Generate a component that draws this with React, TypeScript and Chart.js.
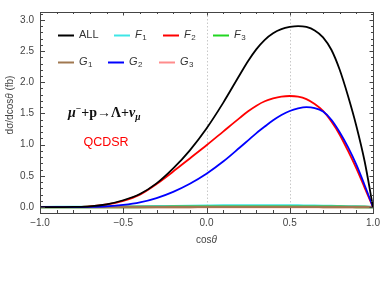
import { useEffect, useRef } from "react";
import { Chart, registerables } from "chart.js";

Chart.register(...registerables);

// ---------- data ----------
const cosTheta = [-1, -0.9, -0.8, -0.7, -0.6, -0.5, -0.4, -0.3, -0.2, -0.1, 0, 0.1, 0.2, 0.25, 0.3, 0.35, 0.4, 0.45, 0.5, 0.55, 0.6, 0.65, 0.7, 0.75, 0.8, 0.85, 0.9, 0.95, 1];
const ALL = [0, 0.001, 0.004, 0.013, 0.045, 0.11, 0.21, 0.38, 0.62, 0.91, 1.26, 1.67, 2.12, 2.34, 2.53, 2.68, 2.785, 2.85, 2.885, 2.9, 2.885, 2.83, 2.72, 2.52, 2.2, 1.78, 1.3, 0.73, 0];
const F1 = [0, 0.001, 0.002, 0.003, 0.005, 0.007, 0.01, 0.013, 0.016, 0.019, 0.022, 0.025, 0.027, 0.028, 0.028, 0.028, 0.028, 0.027, 0.027, 0.026, 0.024, 0.022, 0.02, 0.018, 0.015, 0.012, 0.009, 0.005, 0];
const F2 = [0, 0.001, 0.004, 0.013, 0.042, 0.1, 0.2, 0.37, 0.57, 0.78, 0.99, 1.21, 1.43, 1.535, 1.625, 1.695, 1.74, 1.77, 1.78, 1.77, 1.73, 1.65, 1.54, 1.37, 1.16, 0.9, 0.62, 0.31, 0];
const F3 = [0, 0, 0, 0.001, 0.001, 0.002, 0.003, 0.004, 0.005, 0.006, 0.007, 0.007, 0.008, 0.008, 0.008, 0.008, 0.008, 0.008, 0.008, 0.008, 0.007, 0.007, 0.006, 0.006, 0.005, 0.004, 0.003, 0.002, 0];
const G1 = [0, 0, 0, 0.001, 0.001, 0.002, 0.002, 0.003, 0.003, 0.003, 0.004, 0.004, 0.004, 0.004, 0.004, 0.004, 0.004, 0.004, 0.004, 0.004, 0.004, 0.004, 0.003, 0.003, 0.003, 0.002, 0.002, 0.001, 0];
const G2 = [0, 0, 0.001, 0.004, 0.013, 0.035, 0.075, 0.145, 0.245, 0.375, 0.535, 0.73, 0.955, 1.07, 1.185, 1.29, 1.39, 1.475, 1.54, 1.58, 1.6, 1.585, 1.53, 1.4, 1.2, 0.96, 0.68, 0.35, 0];
const G3 = [0, 0, 0, 0, 0, 0.001, 0.001, 0.001, 0.001, 0.001, 0.001, 0.001, 0.001, 0.001, 0.001, 0.001, 0.001, 0.001, 0.001, 0.001, 0.001, 0.001, 0.001, 0.001, 0.001, 0.001, 0, 0, 0];

const xTicks = [-1, -0.5, 0, 0.5, 1];
const yTicks = [0, 0.5, 1, 1.5, 2, 2.5, 3];
const xGridLines = [0, 0.5];

const seriesNames = ["ALL", "F1", "F2", "F3", "G1", "G2", "G3"];
const seriesValues = [ALL, F1, F2, F3, G1, G2, G3];
const seriesColors = ["#000000", "#3ee6e6", "#ff0000", "#22d622", "#a07850", "#0000ff", "#ff8c8c"];
// drawing order (lower = drawn on top)
const seriesOrder = [1, 6, 3, 5, 4, 2, 7];

const SANS = "'Liberation Sans', Arial, sans-serif";
const SERIF = "'Liberation Serif', 'Times New Roman', serif";
const fmt = (v: number) => v.toFixed(1).replace("-", "\u2212");

const framePlugin = {
  id: "mmaFrame",
  beforeDatasetsDraw(chart: any) {
    const { ctx, chartArea: a, scales } = chart;
    ctx.save();
    ctx.strokeStyle = "#c8c8c8";
    ctx.lineWidth = 1;
    ctx.setLineDash([1.5, 2]);
    for (const g of xGridLines) {
      const x = Math.round(scales.x.getPixelForValue(g)) + 0.5;
      ctx.beginPath();
      ctx.moveTo(x, a.top);
      ctx.lineTo(x, a.bottom);
      ctx.stroke();
    }
    ctx.restore();
  },
  afterDraw(chart: any) {
    const { ctx, chartArea: a, scales } = chart;
    const sx = scales.x, sy = scales.y;
    ctx.save();
    // frame
    ctx.strokeStyle = "#444";
    ctx.lineWidth = 1;
    ctx.strokeRect(a.left + 0.5, a.top + 0.5, a.right - a.left, a.bottom - a.top);
    // x ticks (inward, bottom and top)
    ctx.beginPath();
    for (let i = -10; i <= 10; i++) {
      const v = i / 10;
      const major = i % 5 === 0;
      const x = Math.round(sx.getPixelForValue(v)) + 0.5;
      const lb = major ? 5 : 3;
      const lt = major ? 3.5 : 2;
      ctx.moveTo(x, a.bottom);
      ctx.lineTo(x, a.bottom - lb);
      ctx.moveTo(x, a.top);
      ctx.lineTo(x, a.top + lt);
    }
    // y ticks (inward, left and right)
    for (let i = -1; i <= 31; i++) {
      const v = i / 10;
      const y = Math.round(sy.getPixelForValue(v)) + 0.5;
      if (y < a.top || y > a.bottom) continue;
      const major = i % 5 === 0;
      const l = major ? 5 : 3;
      const r = major ? 3.5 : 2;
      ctx.moveTo(a.left, y);
      ctx.lineTo(a.left + l, y);
      ctx.moveTo(a.right, y);
      ctx.lineTo(a.right - r, y);
    }
    ctx.stroke();

    // legend
    const legend = [
      { i: 0, x: 58, y: 35 },
      { i: 1, x: 114, y: 35 },
      { i: 2, x: 163, y: 35 },
      { i: 3, x: 213, y: 35 },
      { i: 4, x: 58, y: 62 },
      { i: 5, x: 108, y: 62 },
      { i: 6, x: 159, y: 62 },
    ];
    ctx.textBaseline = "middle";
    ctx.textAlign = "left";
    for (const e of legend) {
      ctx.strokeStyle = seriesColors[e.i];
      ctx.lineWidth = 2;
      ctx.beginPath();
      ctx.moveTo(e.x, e.y + 0.5);
      ctx.lineTo(e.x + 16, e.y + 0.5);
      ctx.stroke();
      const name = seriesNames[e.i];
      ctx.fillStyle = "#333";
      let tx = e.x + 21;
      if (name === "ALL") {
        ctx.font = `11px ${SANS}`;
        ctx.fillText(name, tx, e.y);
      } else {
        ctx.font = `italic 11px ${SANS}`;
        ctx.fillText(name[0], tx, e.y);
        tx += ctx.measureText(name[0]).width + 0.5;
        ctx.font = `8px ${SANS}`;
        ctx.fillText(name.slice(1), tx, e.y + 3);
      }
    }

    // reaction text
    const segs: [string, string, number][] = [
      ["\u03bc", `bold italic 14px ${SERIF}`, 0],
      ["\u2212", `bold 9.5px ${SERIF}`, -5],
      ["+p\u2192\u039b+", `bold 14px ${SERIF}`, 0],
      ["\u03bd", `bold italic 14px ${SERIF}`, 0],
      ["\u03bc", `bold italic 9.5px ${SERIF}`, 3],
    ];
    ctx.fillStyle = "#111";
    ctx.textBaseline = "alphabetic";
    let rx = 68;
    const ry = 117;
    for (const [t, f, dy] of segs) {
      ctx.font = f;
      ctx.fillText(t, rx, ry + dy);
      rx += ctx.measureText(t).width;
    }

    // QCDSR
    ctx.fillStyle = "#ff0000";
    ctx.font = `12.5px ${SANS}`;
    ctx.textAlign = "center";
    ctx.textBaseline = "middle";
    ctx.fillText("QCDSR", 106, 143);

    // x title "cosθ"
    ctx.fillStyle = "#444";
    ctx.textAlign = "left";
    ctx.font = `10px ${SANS}`;
    const w1 = ctx.measureText("cos").width;
    ctx.font = `italic 10px ${SANS}`;
    const w2 = ctx.measureText("\u03b8").width;
    const cx = sx.getPixelForValue(0) - (w1 + w2) / 2;
    ctx.font = `10px ${SANS}`;
    ctx.fillText("cos", cx, 240);
    ctx.font = `italic 10px ${SANS}`;
    ctx.fillText("\u03b8", cx + w1, 240);

    // y title "dσ/dcosθ (fb)"
    ctx.translate(10, 105);
    ctx.rotate(-Math.PI / 2);
    const parts: [string, boolean][] = [["d\u03c3/dcos", false], ["\u03b8", true], [" (fb)", false]];
    let tw = 0;
    for (const [t, it] of parts) {
      ctx.font = `${it ? "italic " : ""}10px ${SANS}`;
      tw += ctx.measureText(t).width;
    }
    let px = -tw / 2;
    for (const [t, it] of parts) {
      ctx.font = `${it ? "italic " : ""}10px ${SANS}`;
      ctx.fillText(t, px, 0);
      px += ctx.measureText(t).width;
    }
    ctx.restore();
  },
};

export default function App() {
  const ref = useRef<HTMLCanvasElement | null>(null);
  useEffect(() => {
    if (!ref.current) return;
    const chart = new Chart(ref.current, {
      type: "line",
      data: {
        datasets: seriesNames.map((n, i) => ({
          label: n,
          data: cosTheta.map((x, k) => ({ x, y: seriesValues[i][k] })),
          borderColor: seriesColors[i],
          backgroundColor: seriesColors[i],
          borderWidth: i === 0 || i === 2 || i === 5 ? 1.8 : 2.4,
          pointRadius: 0,
          cubicInterpolationMode: "monotone",
          fill: false,
          order: seriesOrder[i],
        })),
      },
      options: {
        responsive: false,
        animation: false,
        events: [],
        layout: { padding: { left: 0, top: 7, right: 13, bottom: 59 } },
        plugins: { legend: { display: false }, tooltip: { enabled: false }, title: { display: false } },
        scales: {
          x: {
            type: "linear",
            min: -1,
            max: 1,
            grid: { display: false, drawTicks: false },
            border: { display: false },
            afterBuildTicks: (s: any) => { s.ticks = xTicks.map((v) => ({ value: v })); },
            afterFit: (s: any) => { s.height = 20; },
            ticks: {
              autoSkip: false,
              maxRotation: 0,
              padding: 4,
              color: "#444",
              font: { family: SANS, size: 10 },
              callback: (v: any) => fmt(Number(v)),
            },
          },
          y: {
            type: "linear",
            min: -0.094,
            max: 3.125,
            grid: { display: false, drawTicks: false },
            border: { display: false },
            afterBuildTicks: (s: any) => { s.ticks = yTicks.map((v) => ({ value: v })); },
            afterFit: (s: any) => { s.width = 40; },
            ticks: {
              autoSkip: false,
              padding: 6,
              color: "#444",
              font: { family: SANS, size: 10 },
              callback: (v: any) => fmt(Number(v)),
            },
          },
        },
      },
      plugins: [framePlugin],
    } as any);
    return () => chart.destroy();
  }, []);
  return (
    <div style={{ position: "absolute", left: 0, top: 0, width: 386, height: 292, background: "#fff" }}>
      <canvas ref={ref} width={386} height={292} style={{ display: "block" }} />
    </div>
  );
}
